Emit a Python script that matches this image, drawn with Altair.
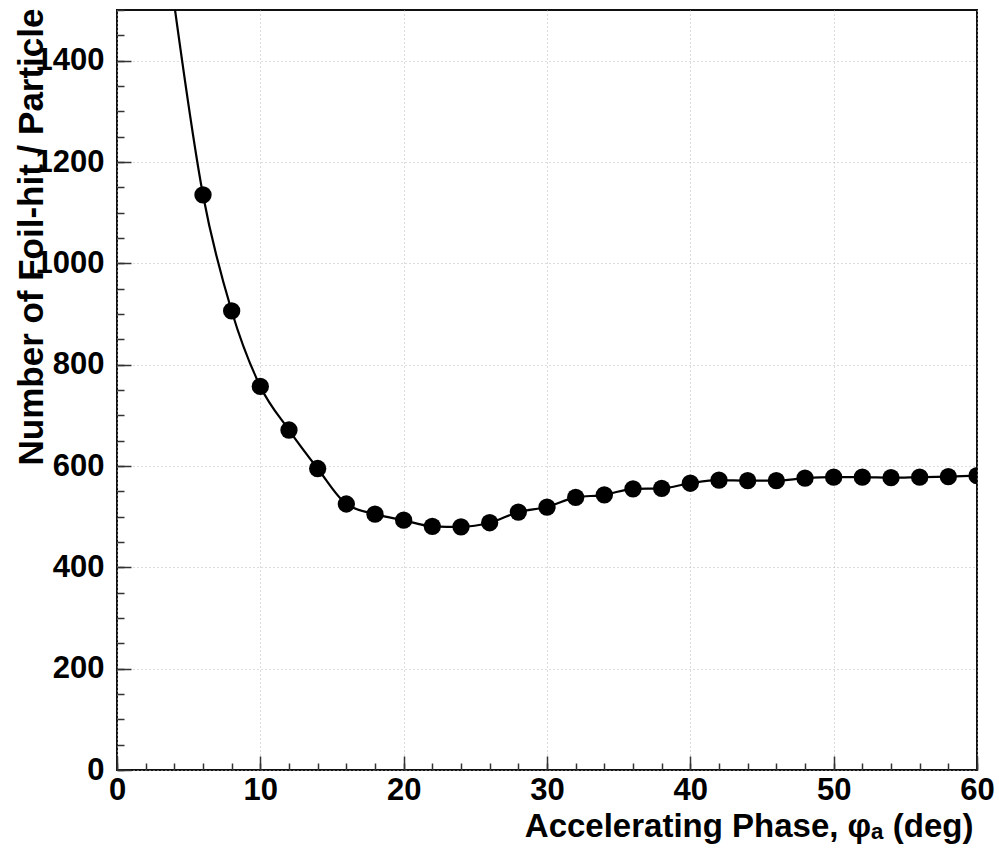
import altair as alt
import pandas as pd

# Data
phase = [4, 6, 8, 10, 12, 14, 16, 18, 20, 22, 24, 26, 28, 30, 32, 34, 36, 38, 40,
         42, 44, 46, 48, 50, 52, 54, 56, 58, 60]
hits = [1510, 1135, 906, 757, 671, 595, 525, 505, 493, 481, 480, 488, 509, 519,
        538, 543, 555, 556, 566, 572, 571, 571, 576, 578, 578, 577, 578, 579, 581]

x_major = [0, 10, 20, 30, 40, 50, 60]
x_minor = list(range(0, 61, 2))
y_major = [0, 200, 400, 600, 800, 1000, 1200, 1400]
y_minor = list(range(0, 1501, 50))

x_title = "Accelerating Phase, φₐ (deg)"
y_title = "Number of Foil-hit / Particle"

df = pd.DataFrame({"phase": phase, "hits": hits})

FONT = "Liberation Sans"
x_scale = alt.Scale(domain=[0, 60], nice=False, zero=False)
y_scale = alt.Scale(domain=[0, 1500], nice=False, zero=False)

main_x_axis = alt.Axis(
    values=x_major, format="d", grid=True, gridColor="#b8b8b8", gridDash=[1, 3], gridWidth=1,
    ticks=False, tickSize=0, domain=False, labelFlush=False, labelPadding=5,
    labelFont=FONT, labelFontSize=31, labelFontWeight="bold", labelColor="black",
    title=x_title, titleFont=FONT, titleFontSize=33, titleFontWeight="bold",
    titleColor="black", titleAnchor="end", titleAlign="right",
    titleBaseline="alphabetic", titleX=856, titleY=66, orient="bottom",
)
main_y_axis = alt.Axis(
    values=y_major, format="d", grid=True, gridColor="#b8b8b8", gridDash=[1, 3], gridWidth=1,
    ticks=False, tickSize=0, domain=False, labelFlush=False, labelPadding=13,
    labelFont=FONT, labelFontSize=31, labelFontWeight="bold", labelColor="black",
    title=y_title, titleFont=FONT, titleFontSize=35, titleFontWeight="bold",
    titleColor="black", titleAnchor="end", titleAlign="right",
    titleBaseline="alphabetic", titleAngle=270, titleX=-75, titleY=-2, orient="left",
)


def tick_axis(vals, size, orient):
    return alt.Axis(
        values=vals, grid=False, ticks=True, tickSize=size, offset=-size,
        tickColor="#333333", tickWidth=1.5, labels=False, domain=False,
        title=None, orient=orient,
    )


base = alt.Chart(df)

line = base.mark_line(color="black", strokeWidth=2.2, interpolate="monotone", clip=True).encode(
    x=alt.X("phase:Q", scale=x_scale, axis=main_x_axis),
    y=alt.Y("hits:Q", scale=y_scale, axis=main_y_axis),
)
points = base.transform_filter(alt.datum.hits <= 1500).mark_circle(
    size=300, color="black", opacity=1, clip=True
).encode(
    x=alt.X("phase:Q", scale=x_scale, axis=main_x_axis),
    y=alt.Y("hits:Q", scale=y_scale, axis=main_y_axis),
)
major_ticks = base.mark_point(opacity=0).encode(
    x=alt.X("phase:Q", scale=x_scale, axis=tick_axis(x_major, 14, "bottom")),
    y=alt.Y("hits:Q", scale=y_scale, axis=tick_axis(y_major, 14, "left")),
)
minor_ticks = base.mark_point(opacity=0).encode(
    x=alt.X("phase:Q", scale=x_scale, axis=tick_axis(x_minor, 7, "bottom")),
    y=alt.Y("hits:Q", scale=y_scale, axis=tick_axis(y_minor, 7, "left")),
)

chart = alt.layer(line + points, major_ticks, minor_ticks).resolve_axis(
    x="independent", y="independent"
).properties(
    width=860, height=760,
    padding={"left": 117, "top": 10, "right": 22, "bottom": 87},
    autosize="none",
    background="white",
).configure_view(stroke="#111111", strokeWidth=2)

chart.save("out.html", embed_options={"renderer": "svg", "actions": False})
